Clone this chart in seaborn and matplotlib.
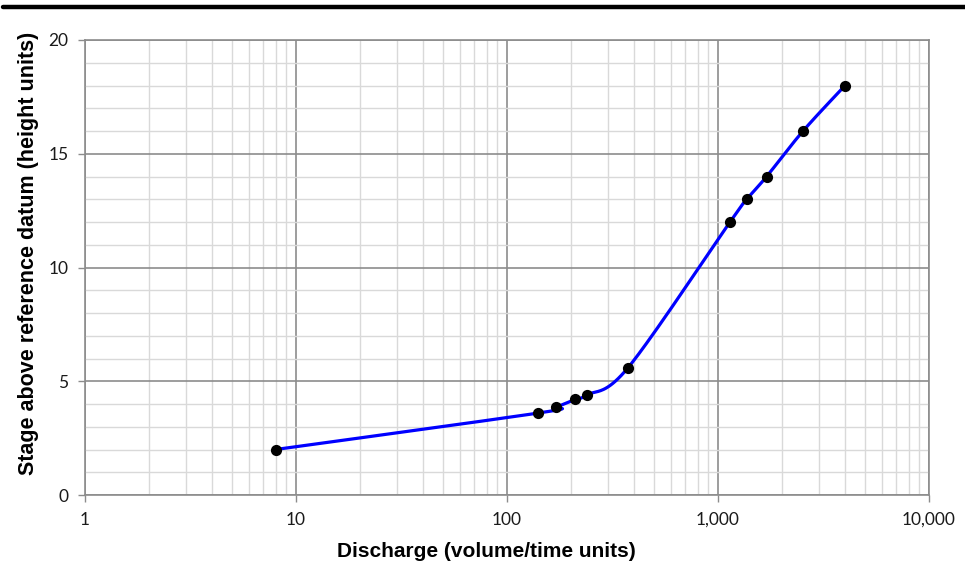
import numpy as np
import pandas as pd
import matplotlib
matplotlib.use("Agg")
import matplotlib.pyplot as plt
from matplotlib.lines import Line2D
from matplotlib.ticker import LogLocator, MultipleLocator, FuncFormatter
import seaborn as sns

# rating curve observations
discharge = [8, 140, 170, 210, 240, 375, 1140, 1370, 1700, 2530, 4000]
stage = [2.0, 3.6, 3.85, 4.2, 4.4, 5.6, 12.0, 13.0, 14.0, 16.0, 18.0]
x_ticks = [1, 10, 100, 1000, 10000]
y_ticks = [0, 5, 10, 15, 20]

df = pd.DataFrame({"discharge": discharge, "stage": stage})


def smooth(xs, ys, n=40):
    # excel-like smoothed line: cardinal bezier in (roughly) pixel space
    u = np.log10(xs) * 211.0
    v = np.array(ys) * 22.75
    p = np.column_stack([u, v])
    pts = [p[0]] + list(p) + [p[-1]]
    out = []
    for i in range(1, len(pts) - 2):
        p0, p1, p2, p3 = pts[i - 1], pts[i], pts[i + 1], pts[i + 2]
        c1 = p1 + (p2 - p0) / 6.0
        c2 = p2 - (p3 - p1) / 6.0
        t = np.linspace(0, 1, n)[:, None]
        seg = ((1 - t) ** 3) * p1 + 3 * ((1 - t) ** 2) * t * c1 + 3 * (1 - t) * t ** 2 * c2 + t ** 3 * p2
        out.append(seg if i == 1 else seg[1:])
    out = np.vstack(out)
    return pd.DataFrame({"discharge": 10 ** (out[:, 0] / 211.0), "stage": out[:, 1] / 22.75})


curve = smooth(discharge, stage)

sns.set_style("white")
plt.rcParams["font.family"] = ["Lato", "DejaVu Sans"]

fig = plt.figure(figsize=(9.65, 5.71), dpi=100)
ax = fig.add_axes([85 / 965, 76 / 571, 844 / 965, 455 / 571])

sns.lineplot(data=curve, x="discharge", y="stage", sort=False, estimator=None,
             color="#0000ff", linewidth=2.3, ax=ax, zorder=3)
sns.scatterplot(data=df, x="discharge", y="stage", color="black", s=65,
                edgecolor="black", linewidth=0, ax=ax, zorder=4)

ax.set_xscale("log")
ax.set_xlim(1, 10000)
ax.set_ylim(0, 20)
ax.set_xticks(x_ticks)
ax.xaxis.set_major_formatter(FuncFormatter(lambda v, p: f"{v:,.0f}"))
ax.xaxis.set_minor_locator(LogLocator(base=10, subs=np.arange(2, 10)))
ax.set_yticks(y_ticks)
ax.yaxis.set_minor_locator(MultipleLocator(1))

ax.grid(which="minor", color="#d9d9d9", linewidth=1.0)
ax.grid(which="major", color="#8c8c8c", linewidth=1.2)
ax.set_axisbelow(True)
for s in ax.spines.values():
    s.set_color("#8c8c8c")
    s.set_linewidth(1.2)

ax.tick_params(which="major", length=5, width=1, color="#8c8c8c", pad=7,
               labelsize=12.5, labelcolor="#1a1a1a", bottom=True, left=True)
ax.tick_params(which="minor", length=0)

ax.set_xlabel("Discharge (volume/time units)", fontsize=15, fontweight="bold",
              family="Liberation Sans", color="black")
ax.set_ylabel("Stage above reference datum (height units)", fontsize=15.5,
              fontweight="bold", family="Liberation Sans", color="black")
ax.xaxis.set_label_coords(0.476, -0.103)
ax.yaxis.set_label_coords(-0.054, 0.530)

fig.add_artist(Line2D([0.003, 1.0], [1 - 7 / 571, 1 - 7 / 571], color="black",
                      linewidth=3.2, transform=fig.transFigure))

fig.savefig("out.png", dpi=100)
